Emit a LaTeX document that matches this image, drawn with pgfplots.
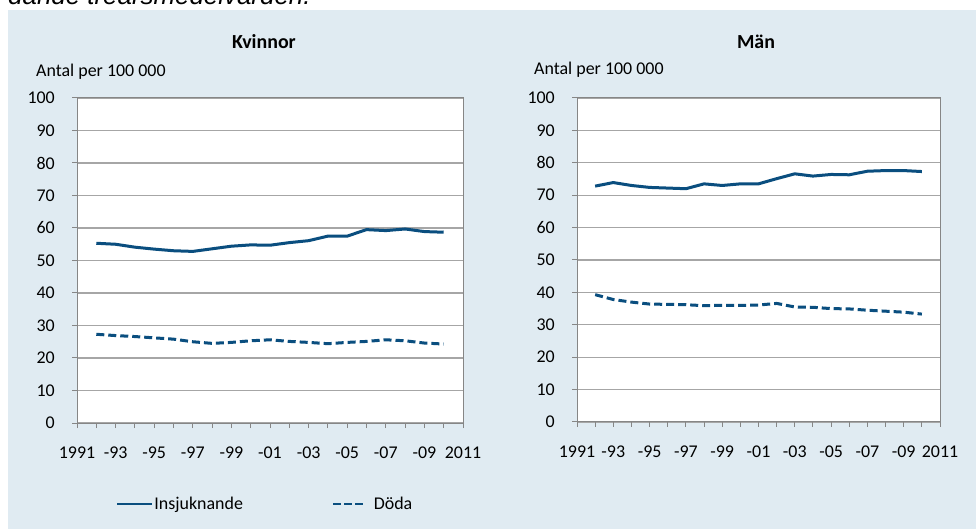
\documentclass[border=0pt]{standalone}
\usepackage{fontspec}
\setmainfont{Carlito}
\newfontfamily\arialfont{Liberation Sans}
\usepackage{pgfplots}
\usepackage{pgfplotstable}
\pgfplotsset{compat=1.18}
\definecolor{bgc}{HTML}{E0EBF2}
\definecolor{linec}{HTML}{0A4E7F}
\definecolor{gridc}{HTML}{A6A6A6}
\definecolor{axc}{HTML}{868686}

\pgfplotstableread{
year ink dod
1992 55.3 27.3
1993 55.0 26.9
1994 54.1 26.6
1995 53.5 26.2
1996 53.0 25.8
1997 52.8 25.0
1998 53.6 24.5
1999 54.4 24.8
2000 54.8 25.3
2001 54.7 25.6
2002 55.5 25.1
2003 56.1 24.8
2004 57.5 24.4
2005 57.5 24.8
2006 59.5 25.1
2007 59.2 25.6
2008 59.7 25.3
2009 58.9 24.6
2010 58.7 24.3
}\kvinnor

\pgfplotstableread{
year ink dod
1992 72.8 39.3
1993 73.9 37.8
1994 73.0 37.0
1995 72.4 36.4
1996 72.2 36.3
1997 72.0 36.2
1998 73.5 35.9
1999 73.0 36.0
2000 73.5 36.0
2001 73.5 36.1
2002 75.1 36.6
2003 76.6 35.5
2004 75.9 35.4
2005 76.4 35.0
2006 76.3 34.9
2007 77.4 34.5
2008 77.6 34.2
2009 77.6 33.9
2010 77.3 33.3
}\man

\pgfplotsset{
  myax/.style={
    scale only axis,
    axis background/.style={fill=white},
    xmin=1991, xmax=2011, ymin=0, ymax=100,
    ytick={0,10,...,100},
    xtick={1991,1993,...,2011},
    xticklabels={1991,-93,-95,-97,-99,-01,-03,-05,-07,-09,2011},
    minor xtick={1992,1994,...,2010},
    tick align=outside,
    major tick length=5bp, minor tick length=5bp,
    xtick pos=bottom, ytick pos=left,
    axis line style={axc, line width=1bp},
    tick style={axc, line width=1bp},
    ymajorgrids,
    major grid style={gridc, line width=1.2bp},
    tick label style={font=\fontsize{18}{21}\selectfont},
    yticklabel style={anchor=east, inner sep=0pt, xshift=-17bp},
    xticklabel style={anchor=north, inner sep=0pt, yshift=-19bp},
    /pgf/number format/assume math mode=true,
    /pgf/number format/1000 sep={},
    clip=false,
  },
  dataline/.style={linec, line width=3bp, line join=round, no marks},
  legsolid/.style={legend image code/.code={\draw[##1, line width=2.6bp] (0bp,0bp) -- (35bp,0bp);}},
  legdash/.style={legend image code/.code={\draw[##1, line width=2.6bp, dash pattern=on 8bp off 3bp] (0bp,0bp) -- (30bp,0bp); \path (38bp,0bp);}},
}

\begin{document}
\begin{tikzpicture}
\useasboundingbox (0,0) rectangle (976bp,529bp);
\clip (0,0) rectangle (976bp,529bp);
\fill[white] (0,0) rectangle (976bp,529bp);
\fill[bgc] (8bp,0) rectangle (976bp,519bp);
\node[anchor=base west, inner sep=0pt, font=\arialfont\itshape\fontsize{26}{30}\selectfont] at (8bp,524bp) {dande treårsmedelvärden.};

\node[anchor=base, inner sep=0pt, font=\bfseries\fontsize{20}{24}\selectfont] at (264bp,480bp) {Kvinnor};
\node[anchor=base, inner sep=0pt, font=\bfseries\fontsize{20}{24}\selectfont] at (756bp,480bp) {Män};
\node[anchor=base west, inner sep=0pt, font=\fontsize{18}{21}\selectfont] at (36bp,452bp) {Antal per 100 000};
\node[anchor=base west, inner sep=0pt, font=\fontsize{18}{21}\selectfont] at (534bp,454bp) {Antal per 100 000};

\begin{axis}[myax,
  at={(77bp,106bp)}, anchor=south west,
  width=386bp, height=325bp,
  legend columns=2,
  legend style={draw=none, fill=none, inner sep=0pt,
    at={(axis description cs:0.100,-0.249)}, anchor=west,
    font=\fontsize{18}{21}\selectfont,
    nodes={inner sep=1bp},
    /tikz/every even column/.style={column sep=88bp}},
]
\addplot[dataline, legsolid] table[x=year,y=ink]{\kvinnor};
\addplot[dataline, dash pattern=on 8bp off 4bp, legdash] table[x=year,y=dod]{\kvinnor};
\legend{Insjuknande, Döda}
\end{axis}

\begin{axis}[myax,
  at={(577bp,107bp)}, anchor=south west,
  width=363bp, height=324bp,
]
\addplot[dataline] table[x=year,y=ink]{\man};
\addplot[dataline, dash pattern=on 8bp off 4bp] table[x=year,y=dod]{\man};
\end{axis}
\end{tikzpicture}
\end{document}
